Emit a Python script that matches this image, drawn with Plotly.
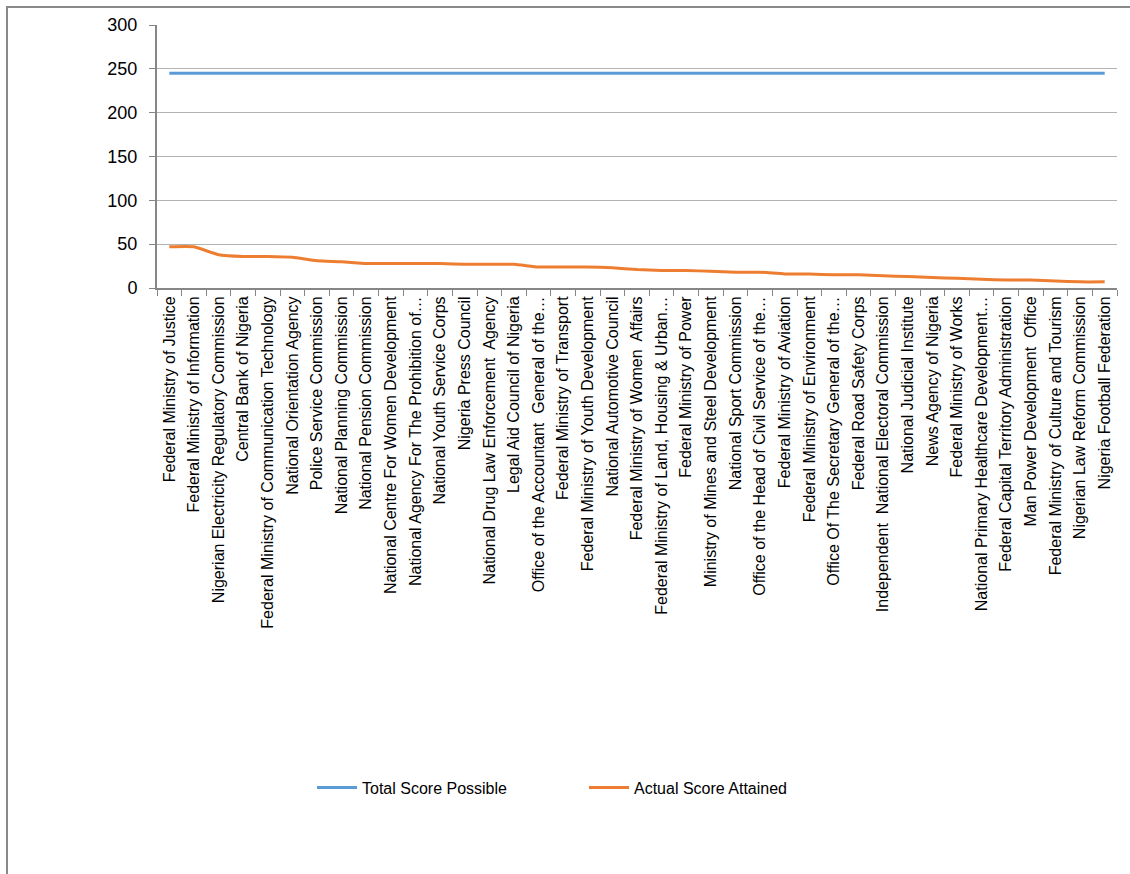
import plotly.graph_objects as go

categories = [
    "Federal Ministry of Justice",
    "Federal Ministry of Information",
    "Nigerian Electricity Regulatory Commission",
    "Central Bank of Nigeria",
    "Federal Ministry of Communication Technology",
    "National Orientation Agency",
    "Police Service Commission",
    "National Planning Commission",
    "National Pension Commission",
    "National Centre For Women Development",
    "National Agency For The Prohibition of…",
    "National Youth Service Corps",
    "Nigeria Press Council",
    "National Drug Law Enforcement  Agency",
    "Legal Aid Council of Nigeria",
    "Office of the Accountant  General of the…",
    "Federal Ministry of Transport",
    "Federal Ministry of Youth Development",
    "National Automotive Council",
    "Federal Ministry of Women  Affairs",
    "Federal Ministry of Land, Housing & Urban…",
    "Federal Ministry of Power",
    "Ministry of Mines and Steel Development",
    "National Sport Commission",
    "Office of the Head of Civil Service of the…",
    "Federal Ministry of Aviation",
    "Federal Ministry of Environment",
    "Office Of The Secretary General of the…",
    "Federal Road Safety Corps",
    "Independent  National Electoral Commission",
    "National Judicial Institute",
    "News Agency of Nigeria",
    "Federal Ministry of Works",
    "National Primary Healthcare Development…",
    "Federal Capital Territory Administration",
    "Man Power Development  Office",
    "Federal Ministry of Culture and Tourism",
    "Nigerian Law Reform Commission",
    "Nigeria Football Federation",
]

total_score_possible = [245] * len(categories)
actual_score_attained = [47, 47, 38, 36, 36, 35, 31, 30, 28, 28, 28, 28, 27, 27, 27,
                         24, 24, 24, 23, 21, 20, 20, 19, 18, 18, 16, 16, 15, 15, 14,
                         13, 12, 11, 10, 9, 9, 8, 7, 7]

y_ticks = [0, 50, 100, 150, 200, 250, 300]

FONT = "Liberation Sans Narrow, Arial Narrow, Liberation Sans, sans-serif"

fig = go.Figure()
fig.add_trace(go.Scatter(x=categories, y=total_score_possible, mode="lines",
                         name="Total Score Possible",
                         line=dict(color="#5b9bd5", width=3)))
fig.add_trace(go.Scatter(x=categories, y=actual_score_attained, mode="lines",
                         name="Actual Score Attained",
                         line=dict(color="#ed7d31", width=3, shape="spline", smoothing=0.5)))

fig.update_layout(
    width=1130, height=874,
    margin=dict(l=157, r=13, t=25, b=586),
    paper_bgcolor="white", plot_bgcolor="white",
    font=dict(family=FONT, size=16, color="#000000"),
    showlegend=True,
    legend=dict(orientation="h", x=(312 - 157) / 960, xanchor="left", y=-1.9, yanchor="middle",
                font=dict(family=FONT, size=16), itemwidth=40, entrywidth=217,
                traceorder="normal"),
    xaxis=dict(type="category", range=[-0.5, len(categories) - 0.5],
               tickangle=-90, tickson="boundaries", ticks="outside", ticklen=6,
               tickcolor="#868686", showline=True, linecolor="#868686", linewidth=2,
               showgrid=False, tickfont=dict(family=FONT, size=16)),
    yaxis=dict(range=[0, 300], tickvals=y_ticks, ticks="outside", ticklen=6,
               tickcolor="#868686", showline=True, linecolor="#868686", linewidth=2,
               showgrid=True, gridcolor="#b3b3b3", gridwidth=1, zeroline=False,
               ticklabelstandoff=8,
               tickfont=dict(family=FONT, size=18)),
    shapes=[dict(type="rect", xref="paper", yref="paper",
                 x0=(7 - 157) / 960, x1=(1140 - 157) / 960,
                 y0=(288 - 880) / 263, y1=(288 - 7) / 263,
                 line=dict(color="#898989", width=2), fillcolor="rgba(0,0,0,0)",
                 layer="below")],
)

fig.write_html("out.html")
